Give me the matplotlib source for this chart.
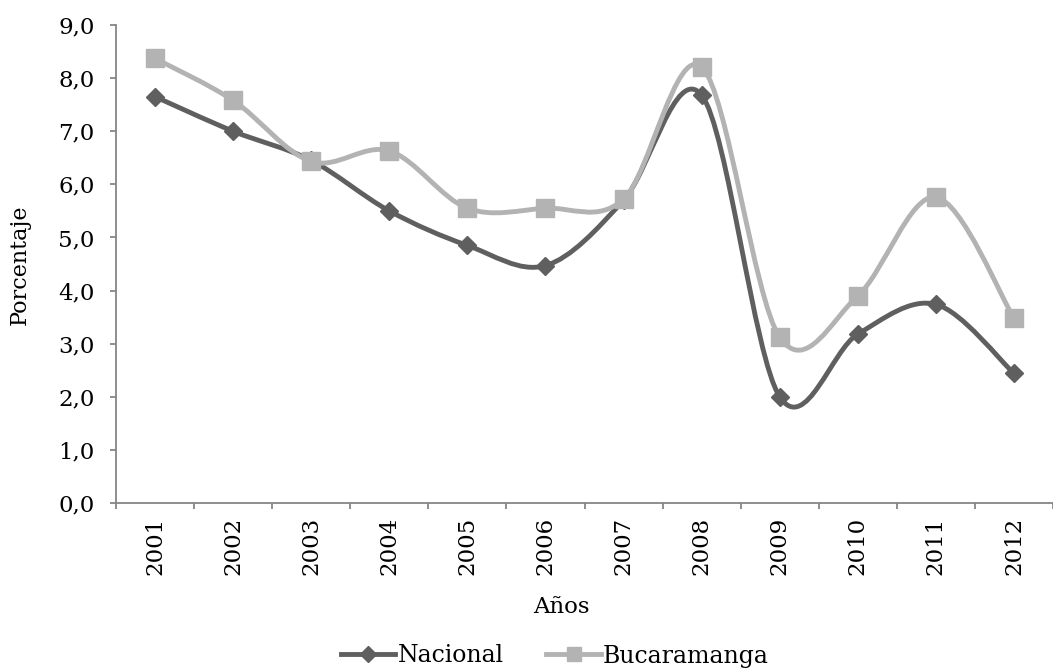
import numpy as np
import matplotlib.pyplot as plt
from matplotlib.path import Path
from matplotlib.patches import PathPatch
from matplotlib.lines import Line2D

# datos
anios = ['2001', '2002', '2003', '2004', '2005', '2006',
         '2007', '2008', '2009', '2010', '2011', '2012']
nacional = [7.65, 7.0, 6.45, 5.5, 4.85, 4.47, 5.7, 7.68, 2.0, 3.18, 3.74, 2.44]
bucaramanga = [8.37, 7.58, 6.43, 6.63, 5.55, 5.55, 5.72, 8.21, 3.12, 3.9, 5.76, 3.48]

c_nac = '#5f5f5f'
c_buc = '#b3b3b3'
fuente = 'DejaVu Serif'


def curva_suave(x, y):
    # suavizado tipo Excel (Bezier con puntos de control a 1/6)
    pts = np.column_stack([x, y]).astype(float)
    ext = np.vstack([pts[0], pts, pts[-1]])
    verts = [pts[0]]
    codes = [Path.MOVETO]
    for i in range(len(pts) - 1):
        p0, p1, p2, p3 = ext[i], ext[i + 1], ext[i + 2], ext[i + 3]
        verts += [p1 + (p2 - p0) / 6, p2 - (p3 - p1) / 6, p2]
        codes += [Path.CURVE4] * 3
    return Path(verts, codes)


fig = plt.figure(figsize=(10.53, 6.68), dpi=100)
ax = fig.add_axes([116 / 1053, 1 - 503 / 668, 937 / 1053, 478 / 668])

x = np.arange(len(anios))
for serie, col, mk, ms in [(nacional, c_nac, 'D', 9.5),
                           (bucaramanga, c_buc, 's', 13.5)]:
    ax.add_patch(PathPatch(curva_suave(x, serie), facecolor='none',
                           edgecolor=col, lw=3.5, capstyle='round', zorder=2))
    ax.plot(x, serie, ls='none', marker=mk, ms=ms, color=col, zorder=3)

ax.set_xlim(-0.5, -0.5 + 937 / 79)
ax.set_ylim(0, 9)
ax.set_yticks(np.arange(0, 10, 1))
ax.set_yticklabels([f'{v:.1f}'.replace('.', ',') for v in range(10)],
                   family=fuente, fontsize=16.5)
ax.set_xticks(x)
ax.set_xticklabels(anios, rotation=90, family=fuente, fontsize=16.5)
ax.set_xticks(np.arange(-0.5, 12, 1), minor=True)
ax.tick_params(axis='x', which='major', length=0, pad=10)
ax.tick_params(axis='x', which='minor', length=4.5, color='#868686', width=1.3)
ax.tick_params(axis='y', length=4.5, color='#868686', width=1.3, pad=11)

for s in ['top', 'right']:
    ax.spines[s].set_visible(False)
for s in ['left', 'bottom']:
    ax.spines[s].set_color('#868686')
    ax.spines[s].set_linewidth(1.3)

fig.text(20 / 1053, 1 - 265 / 668, 'Porcentaje', rotation=90, ha='center',
         va='center', family=fuente, fontsize=16)
fig.text(561 / 1053, 1 - 607 / 668, 'Años', ha='center', va='center',
         family=fuente, fontsize=16.5)

handles = [Line2D([], [], color=c_nac, lw=3.5, marker='D', ms=8.5),
           Line2D([], [], color=c_buc, lw=3.5, marker='s', ms=10.5)]
fig.legend(handles, ['Nacional', 'Bucaramanga'], loc='center',
           bbox_to_anchor=(555 / 1053, 1 - 656 / 668), ncol=2, frameon=False,
           prop={'family': fuente, 'size': 17}, handlelength=2.3,
           handletextpad=0.1, columnspacing=1.8, borderpad=0)

fig.savefig('out.png', dpi=100)
